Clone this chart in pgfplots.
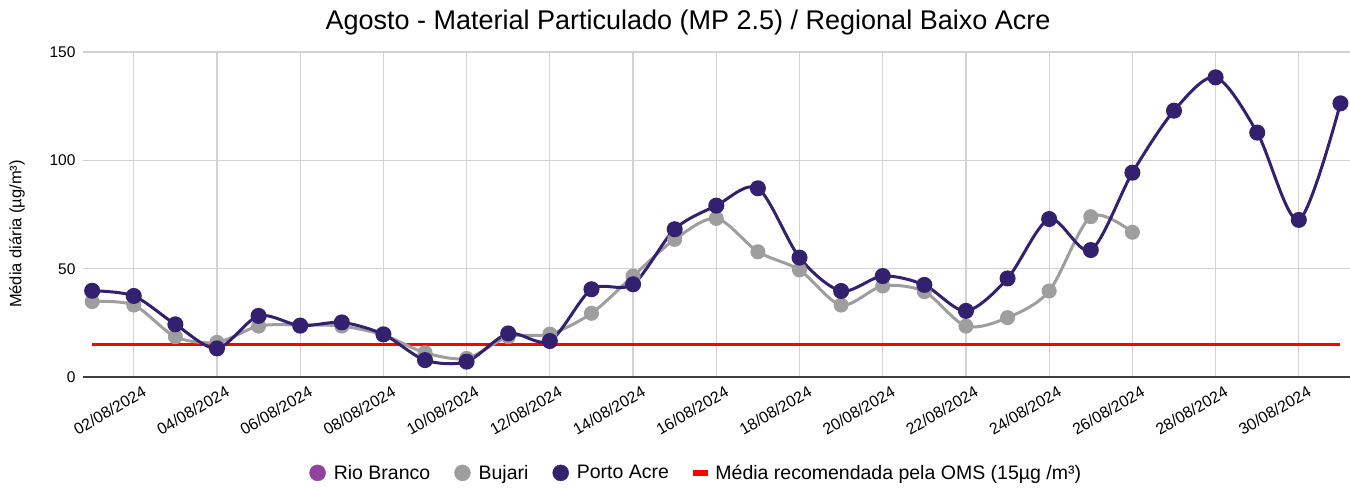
\documentclass[border=0pt]{standalone}
\usepackage{fontspec}
\setmainfont{Liberation Sans}
\usepackage{pgfplots}
\usepackage{pgfplotstable}
\pgfplotsset{compat=1.18}

\definecolor{riobranco}{HTML}{9440A0}
\definecolor{bujari}{HTML}{9E9E9E}
\definecolor{portoacre}{HTML}{33206F}
\definecolor{oms}{HTML}{FF0000}
\definecolor{gridgray}{HTML}{D2D2D2}

% day, media diaria
\pgfplotstableread{
day val
1 34.8
2 33.2
3 18.6
4 16.0
5 23.5
6 24.0
7 23.5
8 19.4
9 11.2
10 8.6
11 18.6
12 19.8
13 29.4
14 46.6
15 63.5
16 73.2
17 57.8
18 49.4
19 33.2
20 42.0
21 39.4
22 23.5
23 27.4
24 39.7
25 74.0
26 66.8
}\bujari

\pgfplotstableread{
day val
1 39.8
2 37.4
3 24.3
4 13.2
5 28.2
6 23.7
7 25.2
8 19.7
9 7.8
10 7.1
11 20.1
12 16.6
13 40.5
14 42.8
15 68.2
16 79.1
17 87.1
18 55.1
19 39.7
20 46.6
21 42.5
22 30.5
23 45.5
24 72.9
25 58.6
26 94.3
27 122.9
28 138.3
29 112.8
30 72.5
31 126.3
}\portoacre

\begin{document}
\begin{tikzpicture}[x=1pt,y=1pt]
\path[use as bounding box] (0,0) rectangle (1350,488);
\node[font=\fontsize{27}{32}\selectfont] at (688,465) {Agosto - Material Particulado (MP 2.5) / Regional Baixo Acre};
\node[rotate=90, font=\fontsize{16.5}{20}\selectfont] at (17,254) {Média diária (µg/m³)};
\begin{axis}[
    at={(83pt,111pt)}, anchor=south west, scale only axis,
    width=1267pt, height=325pt,
    xmin=0.78, xmax=31.23, ymin=0, ymax=150,
    clip=false,
    axis line style={draw=none},
    ytick={0,50,100,150},
    xtick={2,4,...,30},
    xticklabels={02/08/2024,04/08/2024,06/08/2024,08/08/2024,10/08/2024,12/08/2024,14/08/2024,16/08/2024,18/08/2024,20/08/2024,22/08/2024,24/08/2024,26/08/2024,28/08/2024,30/08/2024},
    major tick length=0pt,
    grid=major,
    major grid style={gridgray, line width=1.2pt},
    /pgf/number format/assume math mode=true,
    yticklabel style={font=\fontsize{15.5}{18}\selectfont, anchor=east, xshift=-4pt},
    xticklabel style={font=\fontsize{16}{19}\selectfont, rotate=30, anchor=east, xshift=6pt, yshift=-17pt},
    legend columns=-1,
    legend style={draw=none, fill=none, at={(rel axis cs:0.484,-0.295)}, anchor=center,
        font=\fontsize{19.5}{23}\selectfont,
        /tikz/every odd column/.append style={column sep=6pt},
        /tikz/every even column/.append style={column sep=22pt}},
    legend cell align=left,
  ]
  \addlegendimage{legend image code/.code={\fill[riobranco] (8pt,0pt) circle (8pt);}}
  \addlegendentry{Rio Branco}
  \addlegendimage{legend image code/.code={\fill[bujari] (8pt,0pt) circle (8pt);}}
  \addlegendentry{Bujari}
  \addlegendimage{legend image code/.code={\fill[portoacre] (8pt,0pt) circle (8pt);}}
  \addlegendentry{Porto Acre}
  \addlegendimage{legend image code/.code={\fill[oms] (2pt,-2.5pt) rectangle (16pt,2.5pt);}}
  \addlegendentry{Média recomendada pela OMS (15µg /m³)}

  \draw[black!75, line width=1.5pt] (rel axis cs:0,0) -- (rel axis cs:1,0);

  \addplot[oms, line width=2.6pt, forget plot] coordinates {(1,15) (31,15)};
  \addplot[bujari, line width=3pt, smooth, tension=0.5, mark=*, mark size=6pt,
      mark options={fill=bujari, draw=none}, forget plot] table[x=day, y=val] {\bujari};
  \addplot[portoacre, line width=3pt, smooth, tension=0.5, mark=*, mark size=6.5pt,
      mark options={fill=portoacre, draw=none}, forget plot] table[x=day, y=val] {\portoacre};
\end{axis}
\end{tikzpicture}
\end{document}
